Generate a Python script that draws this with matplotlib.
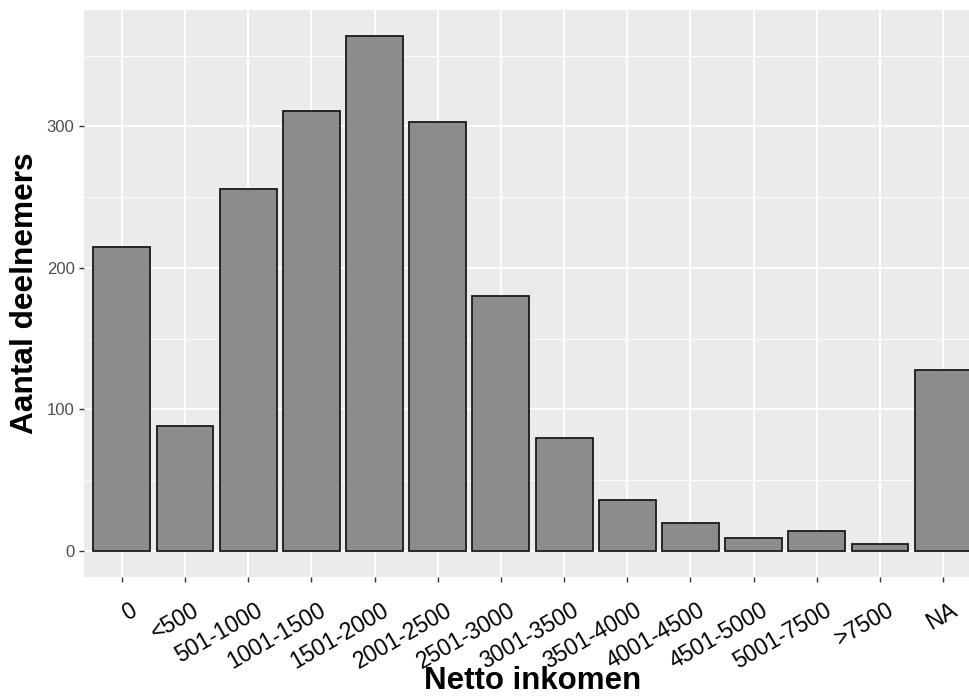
import numpy as np
import matplotlib as mpl
import matplotlib.pyplot as plt

#--------------------------------------------
# data
categories = ['0', '<500', '501-1000', '1001-1500', '1501-2000', '2001-2500',
              '2501-3000', '3001-3500', '3501-4000', '4001-4500', '4501-5000',
              '5001-7500', '>7500', 'NA']
counts = [215, 88, 256, 311, 364, 303, 180, 80, 36, 20, 9, 14, 5, 128]
yticks = [0, 100, 200, 300]
xlabel = 'Netto inkomen'
ylabel = 'Aantal deelnemers'
#--------------------------------------------

plt.rcParams['font.family'] = ['Liberation Sans', 'DejaVu Sans']

fig = plt.figure(figsize=(9.7, 6.99), dpi=100)
# panel runs slightly past the right edge of the figure, as in the reference
ax = fig.add_axes([84 / 970, 122.3 / 699, 897 / 970, 566.7 / 699])

x = np.arange(len(categories))
ax.set_facecolor('#EBEBEB')

# grid: major white, minor thinner
for v in yticks:
    ax.axhline(v, color='white', lw=1.3, zorder=0)
for v in [50, 150, 250, 350]:
    ax.axhline(v, color='white', lw=0.6, zorder=0)
for xi in x:
    ax.axvline(xi, color='white', lw=1.3, zorder=0)

ax.bar(x, counts, width=0.9, color='#8C8C8C', edgecolor='#1A1A1A',
       linewidth=1.3, zorder=2)

ymax = max(counts)
ax.set_xlim(-0.6, len(categories) - 1 + 0.6)
ax.set_ylim(-0.05 * ymax, ymax * 1.05)

for s in ax.spines.values():
    s.set_visible(False)

ax.set_yticks(yticks)
ax.set_yticklabels([str(v) for v in yticks])
ax.set_xticks(x)
ax.set_xticklabels(categories, rotation=30, ha='right', va='top',
                   rotation_mode='anchor')
ax.tick_params(axis='y', length=3.8, width=1.0, color='#333333',
               labelsize=12, labelcolor='#4D4D4D', pad=3)
ax.tick_params(axis='x', length=3.8, width=1.0, color='#333333',
               labelsize=16.5, labelcolor='black', pad=12)

# nudge rotated labels to the right like ggplot's hjust
shift = mpl.transforms.ScaledTranslation(0.07, 0, fig.dpi_scale_trans)
for lab in ax.get_xticklabels():
    lab.set_transform(lab.get_transform() + shift)

ax.set_xlabel(xlabel, fontsize=22.5, fontweight='bold', labelpad=-5)
ax.set_ylabel(ylabel, fontsize=22.8, fontweight='bold', labelpad=5)

fig.savefig('out.png', dpi=100)
